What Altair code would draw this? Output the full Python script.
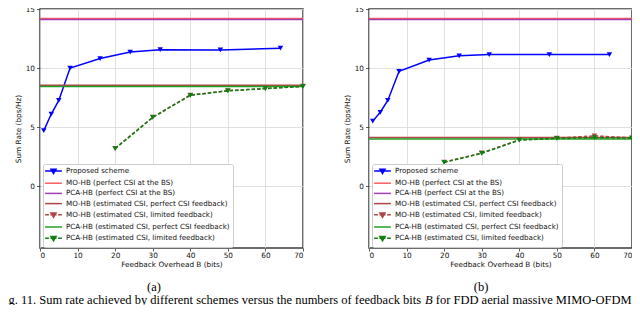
import altair as alt
import pandas as pd

# ---------------- data ----------------
SERIES = [
    "Proposed scheme",
    "MO-HB (perfect CSI at the BS)",
    "PCA-HB (perfect CSI at the BS)",
    "MO-HB (estimated CSI, perfect CSI feedback)",
    "MO-HB (estimated CSI, limited feedback)",
    "PCA-HB (estimated CSI, perfect CSI feedback)",
    "PCA-HB (estimated CSI, limited feedback)",
]

B_PROPOSED = [1, 3, 5, 8, 16, 24, 32, 48, 64]
B_LIMITED = [20, 30, 40, 50, 60, 70]

# panel (a)
PROPOSED_A = [4.7, 6.1, 7.25, 10.0, 10.8, 11.35, 11.55, 11.53, 11.68]
MO_LIMITED_A = [3.2, 5.83, 7.71, 8.08, 8.27, 8.46]
PCA_LIMITED_A = [3.17, 5.81, 7.69, 8.06, 8.25, 8.44]
CONST_A = [14.2, 14.1, 8.55, 8.44]   # MO perfect, PCA perfect, MO est, PCA est

# panel (b)
PROPOSED_B = [5.5, 6.25, 7.25, 9.72, 10.67, 11.03, 11.14, 11.14, 11.14]
MO_LIMITED_B = [2.03, 2.8, 3.92, 4.06, 4.25, 4.08]
PCA_LIMITED_B = [2.0, 2.77, 3.89, 4.03, 4.1, 4.06]
CONST_B = [14.2, 14.1, 4.12, 3.98]

X_TICKS = [0, 10, 20, 30, 40, 50, 60, 70]
Y_TICKS = [0, 5, 10, 15]

PANEL_LABELS = ["(a)", "(b)"]
CAPTION_1 = "Fig. 11. Sum rate achieved by different schemes versus the numbers of feedback bits"
CAPTION_B = "B"
CAPTION_2 = "for FDD aerial massive MIMO-OFDM"
X_TITLE = "Feedback Overhead B (bits)"
Y_TITLE = "Sum Rate (bps/Hz)"

# ---------------- style ----------------
COLORS = ["#0000ff", "#ff5c5c", "#a040b0", "#b04545", "#b04545", "#22a022", "#108010"]
TRI = "M-0.85,-0.6L0.85,-0.6L0,0.85ZM-0.4,-0.35L0.4,-0.35L0,0.4Z"
SOLID = "M-2.8,0H2.8"
DASHED = "M-2.8,0H-1.55M-1.0,0H1.0M1.55,0H2.8"
PATHS = [SOLID + TRI, SOLID, SOLID, SOLID, DASHED + TRI, SOLID, DASHED + TRI]

W, H = 263, 239
FS = 7.3
CAP_FS = 12.5
CAP_Y = 291
LAB_Y = 278


def txt(s, x, y, align, size, style="normal"):
    return alt.Chart(pd.DataFrame({"t": [s]})).mark_text(
        font="Liberation Serif", fontSize=size, align=align, baseline="middle",
        fontStyle=style, color="black", clip=False
    ).encode(text="t:N", x=alt.value(x), y=alt.value(y))


def panel(proposed, mo_lim, pca_lim, consts, label, label_x, with_caption):
    x = alt.X("B:Q", scale=alt.Scale(domain=[0, 70], nice=False),
              axis=alt.Axis(values=X_TICKS, title=X_TITLE, grid=True))
    y = alt.Y("rate:Q", scale=alt.Scale(domain=[-5.25, 15], nice=False, zero=False),
              axis=alt.Axis(values=Y_TICKS, title=Y_TITLE, grid=True))

    def series_lines(idx, xs, ys, dash):
        df = pd.DataFrame({"B": xs, "rate": ys})
        kw = {"strokeDash": dash} if dash else {}
        ln = alt.Chart(df).mark_line(strokeWidth=1.5, color=COLORS[idx], **kw).encode(x=x, y=y)
        pt = alt.Chart(df).mark_point(shape="triangle-down", filled=True, size=30, opacity=1,
                                      color=COLORS[idx]).encode(x=x, y=y)
        return [ln, pt]

    def hline(idx, value):
        df = pd.DataFrame({"rate": [value]})
        return alt.Chart(df).mark_rule(strokeWidth=1.5, color=COLORS[idx]).encode(y=y)

    leg = alt.Legend(orient="none", legendX=3, legendY=155, title=None)
    legend_layer = alt.Chart(pd.DataFrame({"series": SERIES})).mark_point(
        size=36, strokeWidth=1.5, filled=False, opacity=1, clip=True
    ).encode(
        x=alt.value(-60), y=alt.value(-60),
        color=alt.Color("series:N", scale=alt.Scale(domain=SERIES, range=COLORS), legend=leg),
        shape=alt.Shape("series:N", scale=alt.Scale(domain=SERIES, range=PATHS), legend=leg),
    )

    layers = []
    layers += series_lines(0, B_PROPOSED, proposed, None)
    layers += [hline(1, consts[0]), hline(2, consts[1]), hline(3, consts[2])]
    layers += series_lines(4, B_LIMITED, mo_lim, [3.5, 2])
    layers += [hline(5, consts[3])]
    layers += series_lines(6, B_LIMITED, pca_lim, [3.5, 2])
    layers += [legend_layer]
    layers += [txt(label, label_x, LAB_Y, "center", CAP_FS)]
    if with_caption:
        x0 = -42
        xb = x0 + (33.91 + 0.25) * CAP_FS
        x2 = xb + (0.611 + 0.25) * CAP_FS
        layers += [
            txt(CAPTION_1, x0, CAP_Y, "left", CAP_FS),
            txt(CAPTION_B, xb, CAP_Y, "left", CAP_FS, "italic"),
            txt(CAPTION_2, x2, CAP_Y, "left", CAP_FS),
        ]
    return alt.layer(*layers).properties(
        width=W, height=H,
        view=alt.ViewBackground(stroke="#3c3c3c", strokeWidth=1.5),
    )


left = panel(PROPOSED_A, MO_LIMITED_A, PCA_LIMITED_A, CONST_A, PANEL_LABELS[0], 114, True)
right = panel(PROPOSED_B, MO_LIMITED_B, PCA_LIMITED_B, CONST_B, PANEL_LABELS[1], 112, False)

chart = alt.hconcat(left, right, spacing=66, bounds="flush").resolve_scale(
    color="independent", shape="independent"
).properties(
    padding={"left": -11, "top": -4, "right": -4, "bottom": -3}
).configure_view(stroke=None).configure_axis(
    labelFont="DejaVu Sans", labelFontSize=FS, labelColor="#111",
    titleFont="DejaVu Sans", titleFontSize=FS, titleFontWeight="normal", titleColor="#111",
    tickColor="#333", tickWidth=0.8, domain=False,
    gridColor="#d8d8d8", gridWidth=0.8,
).configure_axisX(
    tickSize=3, labelPadding=0, titlePadding=2,
).configure_axisY(
    tickSize=3.5, labelPadding=2, titlePadding=2.5,
).configure_legend(
    labelFont="DejaVu Sans", labelFontSize=7.15, labelColor="#111", labelLimit=400,
    padding=3, rowPadding=2.2, symbolOffset=3.5, labelOffset=8.5,
    strokeColor="#cccccc", fillColor="white", cornerRadius=2,
    symbolSize=36, symbolStrokeWidth=1.5,
)

chart.save("out.html", embed_options={"renderer": "svg", "actions": False})
